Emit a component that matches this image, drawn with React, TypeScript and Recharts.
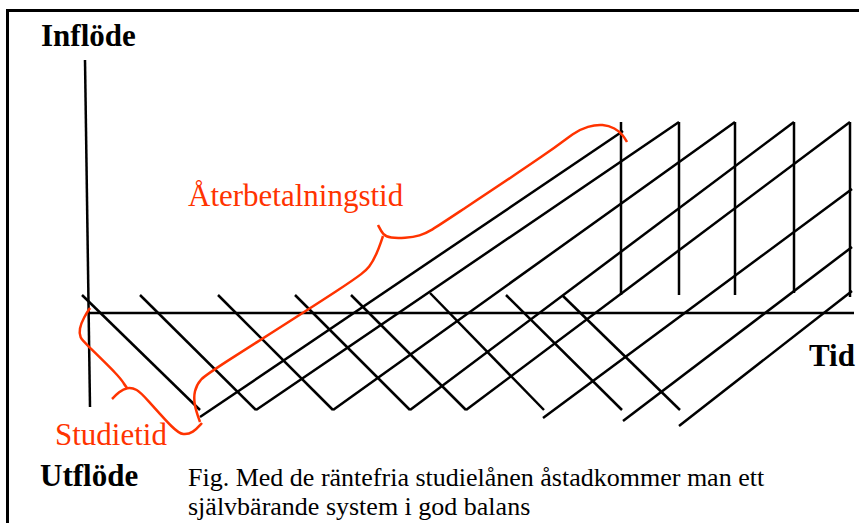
import { LineChart, Line, XAxis, YAxis } from "recharts";

// Schematic: time on x (0 = where the axes cross), flow on y (+ inflöde, - utflöde)
const studyStart = [-8, 50, 128, 205, 261, 340, 416, 473];
const studyStartFlow = [18, 18, 18, 18, 18, 20, 18, 17];
const studyEnd = [110, 166, 243, 320, 376, 454, 532, 590];
const studyEndFlow = [-97, -97, -97, -97, -97, -97, -97, -97];

const repayStart = [110, 166, 243, 320, 376, 453, 533, 589];
const repayStartFlow = [-104, -97, -97, -97, -97, -105, -108, -113];
const repayEnd = [533, 589, 645, 704, 760, 762, 762, 762];
const repayEndFlow = [182, 191, 191, 191, 191, 124, 66, 22];

const payoffTime = [531, 589, 645, 704, 760];
const payoffTop = [191, 191, 191, 191, 191];
const payoffBottom = [18, 18, 18, 20, 16];

const yAxisPts = [
  { x: -5, y: 253 },
  { x: 0, y: -94 },
];
const xAxisPts = [
  { x: -2, y: 0 },
  { x: 764, y: 0 },
];

// hand drawn braces
const repayBraceLower = [
  { x: 110, y: -109 },
  { x: 104, y: -92 },
  { x: 104, y: -78 },
  { x: 110, y: -66 },
  { x: 123, y: -57 },
  { x: 268, y: 35 },
  { x: 280, y: 46 },
  { x: 287, y: 60 },
  { x: 291, y: 71 },
  { x: 293, y: 77 },
];
const repayBraceUpper = [
  { x: 288, y: 88 },
  { x: 293, y: 78 },
  { x: 300, y: 75 },
  { x: 315, y: 75 },
  { x: 330, y: 77 },
  { x: 342, y: 83 },
  { x: 357, y: 93 },
  { x: 467, y: 166 },
  { x: 483, y: 180 },
  { x: 498, y: 187 },
  { x: 513, y: 189 },
  { x: 525, y: 185 },
  { x: 533, y: 178 },
  { x: 537, y: 171 },
];
const studyBraceUpper = [
  { x: 0, y: 5 },
  { x: -6, y: -4 },
  { x: -11, y: -16 },
  { x: -10, y: -25 },
  { x: -5, y: -30 },
  { x: 30, y: -64 },
  { x: 34, y: -71 },
  { x: 37, y: -75 },
];
const studyBraceLower = [
  { x: 22, y: -86 },
  { x: 29, y: -79 },
  { x: 37, y: -74 },
  { x: 47, y: -76 },
  { x: 55, y: -84 },
  { x: 85, y: -118 },
  { x: 93, y: -122 },
  { x: 103, y: -120 },
  { x: 112, y: -110 },
];

const BLACK = "#000000";
const RED = "#ff3300";

type Pt = { x: number; y: number };
type Seg = { key: string; color: string; curve: "linear" | "basis"; pts: Pt[] };

const segments: Seg[] = [
  { key: "y-axis", color: BLACK, curve: "linear", pts: yAxisPts },
  { key: "x-axis", color: BLACK, curve: "linear", pts: xAxisPts },
  ...studyStart.map((t, i) => ({
    key: `study-${i}`,
    color: BLACK,
    curve: "linear" as const,
    pts: [
      { x: t, y: studyStartFlow[i] },
      { x: studyEnd[i], y: studyEndFlow[i] },
    ],
  })),
  ...repayStart.map((t, i) => ({
    key: `repay-${i}`,
    color: BLACK,
    curve: "linear" as const,
    pts: [
      { x: t, y: repayStartFlow[i] },
      { x: repayEnd[i], y: repayEndFlow[i] },
    ],
  })),
  ...payoffTime.map((t, i) => ({
    key: `payoff-${i}`,
    color: BLACK,
    curve: "linear" as const,
    pts: [
      { x: t, y: payoffTop[i] },
      { x: t, y: payoffBottom[i] },
    ],
  })),
  { key: "brace-r1", color: RED, curve: "basis", pts: repayBraceLower },
  { key: "brace-r2", color: RED, curve: "basis", pts: repayBraceUpper },
  { key: "brace-s1", color: RED, curve: "basis", pts: studyBraceUpper },
  { key: "brace-s2", color: RED, curve: "basis", pts: studyBraceLower },
];

const SERIF = "'Liberation Serif', 'Times New Roman', serif";

export default function App() {
  return (
    <div
      style={{
        position: "absolute",
        left: 0,
        top: 0,
        width: 859,
        height: 523,
        overflow: "hidden",
        background: "#fff",
      }}
    >
      <div
        style={{
          position: "absolute",
          left: 6,
          top: 9,
          width: 900,
          height: 600,
          borderLeft: "3px solid #000",
          borderTop: "3px solid #000",
        }}
      />
      <div style={{ position: "absolute", left: 0, top: 0 }}>
        <LineChart width={859} height={523} margin={{ top: 0, right: 0, bottom: 0, left: 0 }}>
          <XAxis type="number" dataKey="x" domain={[-90, 769]} allowDataOverflow hide />
          <YAxis type="number" dataKey="y" domain={[-210, 313]} allowDataOverflow hide />
          {segments.map((s) => (
            <Line
              key={s.key}
              data={s.pts}
              dataKey="y"
              type={s.curve}
              stroke={s.color}
              strokeWidth={2.5}
              strokeLinecap="butt"
              strokeLinejoin="round"
              dot={false}
              activeDot={false}
              isAnimationActive={false}
            />
          ))}
        </LineChart>
      </div>
      <svg
        width={859}
        height={523}
        style={{ position: "absolute", left: 0, top: 0, pointerEvents: "none" }}
      >
        <g fontFamily={SERIF}>
          <text x={41} y={46} fontSize={31} fontWeight="bold" fill="#000">
            Inflöde
          </text>
          <text x={809} y={366} fontSize={31} fontWeight="bold" fill="#000">
            Tid
          </text>
          <text x={40} y={486} fontSize={31} fontWeight="bold" fill="#000">
            Utflöde
          </text>
          <text x={188} y={206} fontSize={31} fill={RED}>
            Återbetalningstid
          </text>
          <text x={55} y={445} fontSize={31} fill={RED}>
            Studietid
          </text>
          <text x={188} y={486} fontSize={26} fill="#000">
            Fig. Med de räntefria studielånen åstadkommer man ett
          </text>
          <text x={188} y={515} fontSize={26} fill="#000">
            självbärande system i god balans
          </text>
        </g>
      </svg>
    </div>
  );
}
